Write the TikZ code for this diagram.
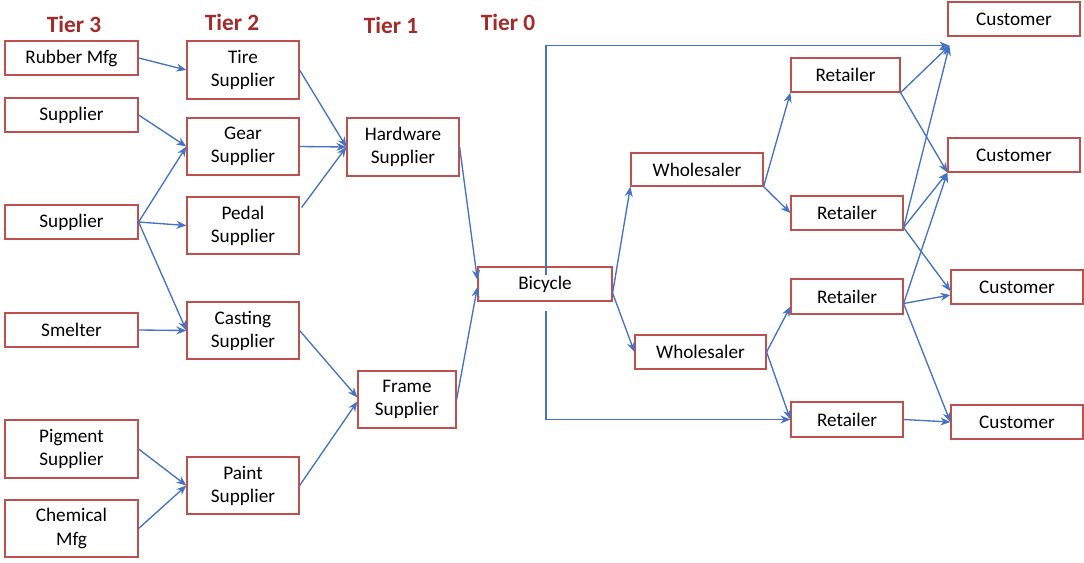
\documentclass[tikz,border=0pt]{standalone}
\usepackage{fontspec}
\setmainfont{Carlito}
\usetikzlibrary{arrows.meta,calc}
\definecolor{boxred}{HTML}{C0504D}
\definecolor{lineblue}{HTML}{4472C4}
\definecolor{tierred}{HTML}{A52A2A}
\newcommand\bx[6]{\node[box,minimum width={(#4)*0.75pt},minimum height={(#5)*0.75pt}] (#1) at (#2,#3) {#6};}
\begin{document}
\begin{tikzpicture}[x=0.75pt,y=-0.75pt,
 box/.style={draw=boxred,line width=0.9pt,inner sep=0pt,align=center,font=\fontsize{14.4}{17.3}\selectfont},
 tier/.style={text=tierred,font=\bfseries\fontsize{17.5}{20}\selectfont},
 conn/.style={draw=lineblue,line width=1pt,-{Stealth[length=7.5pt,width=6pt]}}]
\useasboundingbox (0,0) rectangle (1084,562);
% tier labels
\node[tier] (t3) at (74,24) {Tier 3};
\node[tier] (t2) at (232,22) {Tier 2};
\node[tier] (t1) at (391,25) {Tier 1};
\node[tier] (t0) at (508,22) {Tier 0};
% tier 3
\bx{rubber}{71.5}{58}{133}{34}{Rubber Mfg}
\bx{sup1}{71.5}{115}{133}{34}{Supplier}
\bx{sup2}{71.5}{222}{133}{34}{Supplier}
\bx{smelter}{71.5}{330}{133}{34}{Smelter}
\bx{pigment}{71.5}{449}{133}{58}{Pigment\\Supplier}
\bx{chemical}{71.5}{528.5}{133}{57}{Chemical\\Mfg}
% tier 2
\bx{tire}{243}{70}{112}{58}{Tire\\Supplier}
\bx{gear}{243}{146.5}{112}{57}{Gear\\Supplier}
\bx{pedal}{243}{225.5}{112}{57}{Pedal\\Supplier}
\bx{casting}{243}{330.5}{112}{57}{Casting\\Supplier}
\bx{paint}{243}{485.5}{112}{57}{Paint\\Supplier}
% tier 1
\bx{hardware}{403}{147}{112}{58}{Hardware\\Supplier}
\bx{frame}{407}{399.5}{98}{57}{Frame\\Supplier}
% tier 0
\bx{bicycle}{545}{284}{134}{34}{Bicycle}
% downstream
\bx{whole1}{697}{169.5}{132}{33}{Wholesaler}
\bx{whole2}{700.5}{352}{131}{34}{Wholesaler}
\bx{ret1}{845.5}{75}{109}{34}{Retailer}
\bx{ret2}{847}{213}{112}{34}{Retailer}
\bx{ret3}{847}{296.5}{112}{35}{Retailer}
\bx{ret4}{847}{419.5}{112}{35}{Retailer}
\bx{cust1}{1014}{19}{132}{34}{Customer}
\bx{cust2}{1014}{155}{132}{34}{Customer}
\bx{cust3}{1017}{287}{132}{34}{Customer}
\bx{cust4}{1017}{422}{132}{34}{Customer}
% upstream connectors
\draw[conn] (rubber.east) -- (tire.west);
\draw[conn] (sup1.east) -- (gear.west);
\draw[conn] (sup2.east) -- (gear.west);
\draw[conn] (sup2.east) -- (pedal.west);
\draw[conn] (sup2.east) -- (casting.west);
\draw[conn] (smelter.east) -- (casting.west);
\draw[conn] (pigment.east) -- (paint.west);
\draw[conn] (chemical.east) -- (paint.west);
\draw[conn] (tire.east) -- (hardware.west);
\draw[conn] (gear.east) -- (hardware.west);
\draw[conn] ($(pedal.east)+(2,-18)$) -- (hardware.west);
\draw[conn] (hardware.east) -- ($(bicycle.west)+(0,-4)$);
\draw[conn] (frame.east) -- ($(bicycle.west)+(0,3)$);
\draw[conn] (casting.east) -- ($(frame.west)+(0,-2)$);
\draw[conn] (paint.east) -- ($(frame.west)+(0,2)$);
% downstream connectors
\coordinate (bo) at ($(bicycle.east)+(0,9)$);
\draw[conn] (bo) -- (whole1.south west);
\draw[conn] (bo) -- (whole2.west);
\coordinate (c1in) at ($(cust1.south west)+(2,9)$);
\draw[conn] ($(bicycle.north)+(1,9)$) |- (c1in);
\draw[conn] ($(bicycle.south)+(1,9)$) |- (ret4.west);
\draw[conn] (whole1.south east) -- (ret1.south west);
\draw[conn] (whole1.south east) -- (ret2.west);
\draw[conn] (whole2.east) -- ($(ret3.west)+(0,10)$);
\draw[conn] (whole2.east) -- (ret4.west);
\coordinate (r2o) at ($(ret2.south east)+(0,-3)$);
\coordinate (r3o) at ($(ret3.east)+(0,7)$);
\draw[conn] (ret1.south east) -- (c1in);
\draw[conn] (ret1.south east) -- (cust2.south west);
\draw[conn] (r2o) -- (c1in);
\draw[conn] (r2o) -- (cust2.south west);
\draw[conn] (r2o) -- ($(cust3.west)+(0,4)$);
\draw[conn] (r3o) -- (cust2.south west);
\draw[conn] (r3o) -- ($(cust3.west)+(0,8)$);
\draw[conn] (r3o) -- (cust4.west);
\draw[conn] (ret4.east) -- (cust4.west);
\end{tikzpicture}
\end{document}
